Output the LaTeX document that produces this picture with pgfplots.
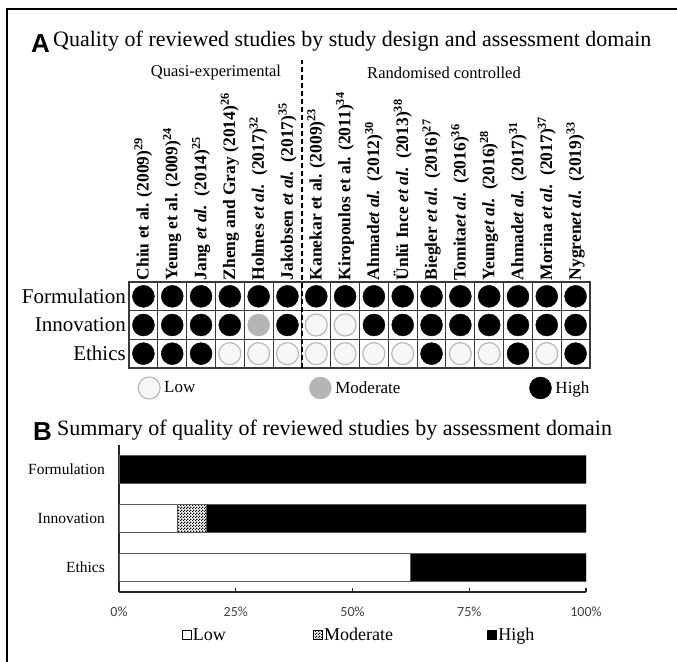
\documentclass[border=0pt]{standalone}
\usepackage{fontspec}
\setmainfont{Liberation Serif}
\newfontfamily\arialf{Liberation Sans}
\newfontfamily\carlito{Carlito}
\usepackage{pgfplots}
\pgfplotsset{compat=1.18}
\usetikzlibrary{patterns}
\newcommand{\fs}[1]{\fontsize{#1bp}{#1bp}\selectfont}
\newcommand{\ea}{\textit{et al.}}
\pgfdeclarepatternformonly{finechecker}{\pgfpointorigin}{\pgfpoint{3bp}{3bp}}{\pgfpoint{3bp}{3bp}}{%
  \pgfpathrectangle{\pgfpointorigin}{\pgfpoint{1.5bp}{1.5bp}}%
  \pgfpathrectangle{\pgfpoint{1.5bp}{1.5bp}}{\pgfpoint{1.5bp}{1.5bp}}%
  \pgfusepath{fill}}

\begin{document}
\begin{tikzpicture}[x=1bp,y=1bp]
\path[use as bounding box] (0,0) rectangle (677,662);
% frame
\draw[line width=2bp] (7,0) -- (7,653) -- (677,653);

% titles
\node[anchor=base west, inner sep=0pt, font=\arialf\bfseries\fs{26}] at (31,609) {A};
\node[anchor=base west, inner sep=0pt, font=\fs{22}] at (53,615)
  {Quality of reviewed studies by study design and assessment domain};
\node[anchor=base west, inner sep=0pt, font=\arialf\bfseries\fs{26}] at (33,221) {B};
\node[anchor=base west, inner sep=0pt, font=\fs{22}] at (57,226)
  {Summary of quality of reviewed studies by assessment domain};
\node[font=\fs{16.5}] at (216,589) {Quasi-experimental};
\node[font=\fs{16.5}] at (444,589) {Randomised controlled};

% Panel A: quality per study
\begin{axis}[
    at={(129bp,294bp)}, anchor=south west,
    scale only axis, width=461bp, height=86bp,
    xmin=0.5, xmax=16.5, ymin=0.5, ymax=3.5,
    clip=false,
    xtick={1,...,16}, xticklabel pos=right,
    xticklabels={
      Chiu et al. (2009)\textsuperscript{29},
      Yeung et al. (2009)\textsuperscript{24},
      Jang \ea{}\ \ (2014)\textsuperscript{25},
      Zheng and Gray (2014)\textsuperscript{26},
      Holmes \ea{}\ \ (2017)\textsuperscript{32},
      Jakobsen \ea{}\ \ (2017)\textsuperscript{35},
      Kanekar et al. (2009)\textsuperscript{23},
      Kiropoulos et al. (2011)\textsuperscript{34},
      Ahmad\ea{}\ \ (2012)\textsuperscript{30},
      Ünlü Ince \ea{}\ \ (2013)\textsuperscript{38},
      Biegler \ea{}\ \ (2016)\textsuperscript{27},
      Tomita\ea{}\ \ (2016)\textsuperscript{36},
      Yeung\ea{}\ \ (2016)\textsuperscript{28},
      Ahmad\ea{}\ \ (2017)\textsuperscript{31},
      Morina \ea{}\ \ (2017)\textsuperscript{37},
      Nygren\ea{}\ \ (2019)\textsuperscript{33}},
    xticklabel style={font=\bfseries\fs{17.5}, rotate=90, anchor=west, inner sep=1.5bp},
    ytick={1,2,3}, yticklabels={Ethics,Innovation,Formulation},
    yticklabel style={font=\fs{21}, anchor=east, inner sep=0pt, xshift=-3bp},
    major tick length=0pt, minor tick length=0pt,
    minor xtick={1.5,2.5,...,15.5}, minor ytick={1.5,2.5},
    xminorgrids, yminorgrids,
    minor grid style={draw=gray!45!black, line width=1.1bp},
    axis line style={draw=gray!45!black, line width=1.1bp},
    legend columns=3,
    legend image code/.code={\draw[#1] plot coordinates {(11bp,0bp)};},
    legend style={at={(0,0)}, anchor=west, xshift=6bp, yshift=-20bp,
      draw=none, fill=none, font=\fs{17}, nodes={inner sep=0pt},
      /tikz/every odd column/.append style={column sep=4bp},
      /tikz/column 2/.style={column sep=114bp},
      /tikz/column 4/.style={column sep=129bp}},
]
% Low
\addplot[only marks, mark=*, mark size=11bp,
  mark options={fill=gray!6, draw=gray!55, line width=1.2bp}] coordinates {
  (7,2) (8,2)
  (4,1) (5,1) (6,1) (7,1) (8,1) (9,1) (10,1) (12,1) (13,1) (15,1)
};
\addlegendentry{Low}
% Moderate
\addplot[only marks, mark=*, mark size=11bp,
  mark options={fill=gray!58, draw=gray!58}] coordinates {
  (5,2)
};
\addlegendentry{Moderate}
% High
\addplot[only marks, mark=*, mark size=11bp,
  mark options={fill=black, draw=black}] coordinates {
  (1,3) (2,3) (3,3) (4,3) (5,3) (6,3) (7,3) (8,3)
  (9,3) (10,3) (11,3) (12,3) (13,3) (14,3) (15,3) (16,3)
  (1,2) (2,2) (3,2) (4,2) (6,2) (9,2) (10,2) (11,2)
  (12,2) (13,2) (14,2) (15,2) (16,2)
  (1,1) (2,1) (3,1) (11,1) (14,1) (16,1)
};
\addlegendentry{High}
% design divider
\draw[line width=1.3bp, dash pattern=on 5bp off 3bp]
  (axis cs:6.5,0.5) -- (axis cs:6.5,11.24);
\end{axis}

% Panel B: summary by domain
\begin{axis}[
    at={(119bp,70bp)}, anchor=south west,
    scale only axis, width=467bp, height=147bp,
    xbar stacked, bar width=28bp,
    xmin=0, xmax=100, ymin=-0.51, ymax=2.49,
    axis x line*=bottom, axis y line*=left,
    axis line style={draw=black!85, line width=1.3bp},
    xtick={0,25,50,75,100},
    xticklabels={0\%,25\%,50\%,75\%,100\%},
    xticklabel style={font=\carlito\fs{14}, text=black!75, anchor=center, yshift=-20bp},
    xtick align=inside, major tick length=4bp,
    x tick style={draw=black!85, line width=1.1bp},
    ytick={0,1,2}, yticklabels={Ethics,Innovation,Formulation},
    yticklabel style={font=\fs{15.5}, anchor=east, inner sep=0pt, xshift=-14bp},
    y tick style={draw=none},
    legend columns=3,
    legend image code/.code={\draw[#1, draw=black, line width=0.7bp] (0bp,-4.5bp) rectangle (9bp,4.5bp);},
    legend style={at={(0.5,0)}, anchor=center, xshift=5.5bp, yshift=-43bp,
      draw=none, fill=none, font=\fs{18}, nodes={inner sep=0pt},
      /tikz/every odd column/.append style={column sep=1.5bp},
      /tikz/column 2/.style={column sep=87bp},
      /tikz/column 4/.style={column sep=94bp}},
]
\addplot[fill=white, draw=gray!70!black, line width=0.8bp] coordinates {(62.5,0) (12.5,1) (0,2)};
\addlegendentry{Low}
\addplot[pattern=finechecker, draw=gray!70!black, line width=0.8bp] coordinates {(0,0) (6.25,1) (0,2)};
\addlegendentry{Moderate}
\addplot[fill=black, draw=gray!70!black, line width=0.8bp] coordinates {(37.5,0) (81.25,1) (100,2)};
\addlegendentry{High}
\end{axis}
\end{tikzpicture}
\end{document}
